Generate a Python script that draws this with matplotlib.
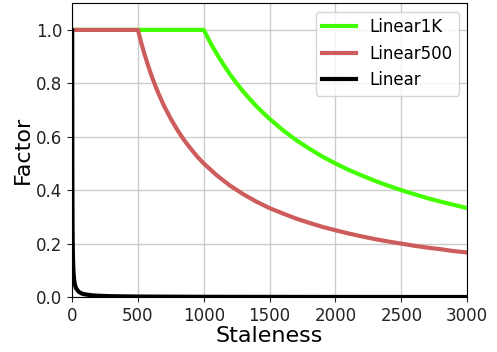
import matplotlib
matplotlib.use('Agg')
import matplotlib.pyplot as plt

# Linear1K curve
x_1k = [0, 1000, 1025, 1050, 1075, 1100, 1150, 1200, 1250, 1300, 1350, 1400, 1450,
        1500, 1600, 1700, 1800, 1900, 2000, 2100, 2200, 2300, 2400, 2500, 2600,
        2700, 2800, 2900, 3000]
y_1k = [1.0, 1.0, 0.976, 0.952, 0.930, 0.909, 0.870, 0.833, 0.8, 0.769, 0.741,
        0.714, 0.690, 0.667, 0.625, 0.588, 0.556, 0.526, 0.5, 0.476, 0.455, 0.435,
        0.417, 0.4, 0.385, 0.370, 0.357, 0.345, 0.333]

# Linear500 curve
x_500 = [0, 500, 525, 550, 575, 600, 625, 650, 675, 700, 750, 800, 850, 900, 950,
         1000, 1100, 1200, 1300, 1400, 1500, 1600, 1700, 1800, 1900, 2000, 2100,
         2200, 2300, 2400, 2500, 2600, 2700, 2800, 2900, 3000]
y_500 = [1.0, 1.0, 0.952, 0.909, 0.870, 0.833, 0.8, 0.769, 0.741, 0.714, 0.667,
         0.625, 0.588, 0.556, 0.526, 0.5, 0.455, 0.417, 0.385, 0.357, 0.333, 0.313,
         0.294, 0.278, 0.263, 0.25, 0.238, 0.227, 0.217, 0.208, 0.2, 0.192, 0.185,
         0.179, 0.172, 0.167]

# Linear curve
x_lin = [0, 1, 2, 3, 4, 5, 7, 10, 15, 20, 30, 50, 75, 100, 150, 200, 300, 500,
         1000, 2000, 3000]
y_lin = [1.0, 1.0, 0.5, 0.333, 0.25, 0.2, 0.143, 0.1, 0.067, 0.05, 0.033, 0.02,
         0.013, 0.01, 0.0067, 0.005, 0.0033, 0.002, 0.001, 0.0005, 0.00033]

fig, ax = plt.subplots(figsize=(4.97, 3.52), dpi=100)
fig.subplots_adjust(left=0.145, right=0.94, bottom=0.156, top=0.991)

ax.plot(x_1k, y_1k, color='#44ff00', linewidth=3, label='Linear1K')
ax.plot(x_500, y_500, color='#cd5c5c', linewidth=3, label='Linear500')
ax.plot(x_lin, y_lin, color='black', linewidth=3, label='Linear')

ax.set_xlim(0, 3000)
ax.set_ylim(0, 1.1)
ax.set_xticks([0, 500, 1000, 1500, 2000, 2500, 3000])
ax.set_yticks([0.0, 0.2, 0.4, 0.6, 0.8, 1.0])
ax.tick_params(labelsize=12, colors='#222222')
ax.set_xlabel('Staleness', fontsize=16, labelpad=1)
ax.set_ylabel('Factor', fontsize=16, labelpad=2)
ax.grid(True, color='#cccccc', linewidth=1)
ax.set_axisbelow(True)
ax.legend(fontsize=12, loc='upper right', handlelength=2.0)

plt.savefig('out.png', dpi=100)
